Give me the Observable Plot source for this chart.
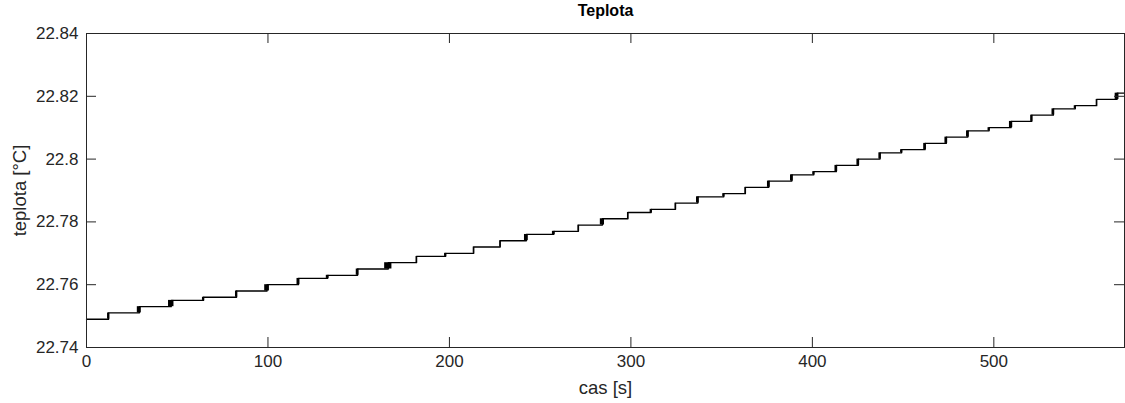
<!DOCTYPE html>
<html>
<head>
<meta charset="utf-8">
<script src="https://cdn.jsdelivr.net/npm/d3@7"></script>
<script src="https://cdn.jsdelivr.net/npm/@observablehq/plot@0.6"></script>
<style>
  html, body { margin: 0; padding: 0; background: #fff; }
</style>
</head>
<body>
<div id="chart"></div>
<script>
// Temperature log: quantized sensor readings (°C), one step per level change
const startLevel = 22.749;
const stepTimes = [
  12.2, 29.1, 46.7, 64.5, 82.7, 99.5, 116.8, 132.9, 149.4, 166.3,
  181.9, 197.9, 213.4, 228.0, 242.4, 257.5, 271.1, 284.3, 298.4, 311.2,
  324.6, 336.9, 351.2, 363.1, 376.0, 388.7, 400.8, 413.2, 425.3, 437.3,
  449.2, 462.1, 473.8, 485.7, 497.4, 509.5, 520.9, 532.8, 544.9, 556.7,
  567.9
];
const stepLevels = [
  22.751, 22.753, 22.755, 22.756, 22.758, 22.760, 22.762, 22.763, 22.765, 22.767,
  22.769, 22.770, 22.772, 22.774, 22.776, 22.777, 22.779, 22.781, 22.783, 22.784,
  22.786, 22.788, 22.789, 22.791, 22.793, 22.795, 22.796, 22.798, 22.800, 22.802,
  22.803, 22.805, 22.807, 22.809, 22.810, 22.812, 22.814, 22.816, 22.817, 22.819,
  22.821
];
// how long (s) the reading toggles between the two levels around each step
const flickerSeconds = [
  1.2, 2.2, 3.0, 1.2, 1.2, 2.6, 1.6, 1.5, 1.5, 4.0,
  0.6, 1.2, 0.6, 0.6, 2.1, 1.5, 0.6, 2.3, 0.6, 1.2,
  0.6, 1.5, 1.2, 0.6, 1.5, 1.5, 1.2, 1.5, 1.5, 1.3,
  1.2, 1.5, 1.5, 1.5, 1.2, 1.8, 1.2, 1.5, 1.2, 0.6,
  2.1
];
const endTime = 572;

const xTicks = [0, 100, 200, 300, 400, 500];
const yTicks = [22.74, 22.76, 22.78, 22.80, 22.82, 22.84];

// step-after series
const series = [{t: 0, v: startLevel}];
stepTimes.forEach((t, i) => series.push({t, v: stepLevels[i]}));
series.push({t: endTime, v: stepLevels[stepLevels.length - 1]});

// toggling bands at each transition
const bands = stepTimes.map((t, i) => ({
  t1: t - flickerSeconds[i] / 2,
  t2: t + flickerSeconds[i] / 2,
  lo: i === 0 ? startLevel : stepLevels[i - 1],
  hi: stepLevels[i]
}));

const W = 1125, H = 403;
const mL = 86, mR = 1, mT = 33, mB = 56;
const frameW = W - mL - mR, frameH = H - mT - mB;
const tick = 10;
const ink = "#262626";

const chart = Plot.plot({
  width: W,
  height: H,
  marginLeft: mL,
  marginRight: mR,
  marginTop: mT,
  marginBottom: mB,
  x: {domain: [0, endTime]},
  y: {domain: [22.74, 22.84]},
  style: {fontFamily: "'Liberation Sans', Arial, sans-serif", background: "#fff", color: ink},
  marks: [
    Plot.rect(bands, {x1: "t1", x2: "t2", y1: "lo", y2: "hi", fill: "#000"}),
    Plot.line(series, {x: "t", y: "v", curve: "step-after", stroke: "#000", strokeWidth: 1.3}),
    Plot.frame({stroke: ink, strokeWidth: 1}),
    // inward ticks on all four sides
    Plot.ruleX(xTicks, {x: d => d, insetTop: frameH - tick, stroke: ink}),
    Plot.ruleX(xTicks, {x: d => d, insetBottom: frameH - tick, stroke: ink}),
    Plot.ruleY(yTicks, {y: d => d, insetRight: frameW - tick, stroke: ink}),
    Plot.ruleY(yTicks, {y: d => d, insetLeft: frameW - tick, stroke: ink}),
    Plot.axisX(xTicks, {tickSize: 0, tickPadding: 7, fontSize: 17, label: null, fill: ink}),
    Plot.axisY(yTicks, {tickSize: 0, tickPadding: 8, fontSize: 17, label: null, fill: ink,
      tickFormat: d3.format(".2~f")}),
    Plot.text(["Teplota"], {frameAnchor: "top", dy: -23, lineAnchor: "middle", fontSize: 16, fontWeight: "bold", fill: "#000"}),
    Plot.text(["cas [s]"], {frameAnchor: "bottom", dy: 41, lineAnchor: "middle", fontSize: 18.5, fill: ink}),
    Plot.text(["teplota [°C]"], {frameAnchor: "left", dx: -66, rotate: -90, textAnchor: "middle", lineAnchor: "middle", fontSize: 18.5, fill: ink})
  ]
});

document.getElementById("chart").appendChild(chart);
</script>
</body>
</html>
